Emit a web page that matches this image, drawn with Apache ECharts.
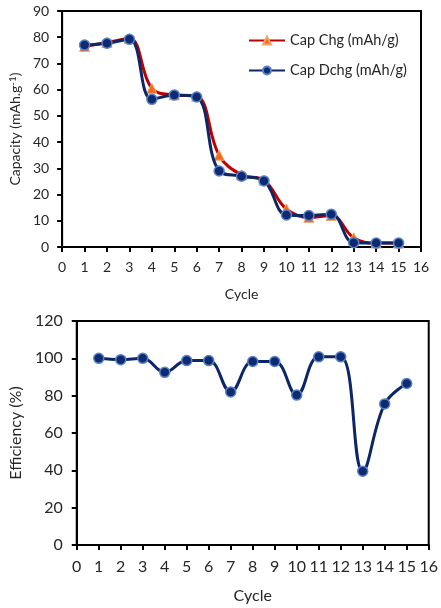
<!DOCTYPE html>
<html>
<head>
<meta charset="utf-8">
<script src="https://cdn.jsdelivr.net/npm/echarts@6/dist/echarts.min.js"></script>
<style>
  html, body { margin: 0; padding: 0; background: #fff; }
  #chart { width: 441px; height: 608px; }
</style>
</head>
<body>
<div id="chart"></div>
<script>
// Cycle numbers shared by both panels
const cycles = [1, 2, 3, 4, 5, 6, 7, 8, 9, 10, 11, 12, 13, 14, 15];
// Charge / discharge capacity per cycle (mAh/g)
const capChg  = [76.5, 78, 79.5, 60.5, 58, 57.5, 35, 27.5, 25.5, 14.5, 11.3, 12, 3.5, 1.5, 1.5];
const capDchg = [77, 77.7, 79.2, 56.3, 58, 57.2, 29, 27, 25.2, 12.2, 12, 12.5, 1.6, 1.5, 1.5];
// Coulombic efficiency per cycle (%)
const efficiency = [100, 99.3, 100, 92.5, 98.8, 98.8, 82, 98.3, 98.3, 80.3, 100.8, 100.8, 39.5, 75.6, 86.5];

const pairs = (ys) => cycles.map((c, i) => [c, ys[i]]);

const FONT = 'Lato, "Open Sans", sans-serif';
const TXT = '#262626';
const RED = '#c00000';
const NAVY = '#0b2766';

function xAxisCfg(gridIndex, fontSize, labelMargin, nameGap, nameSize) {
  return {
    type: 'value', gridIndex, min: 0, max: 16, interval: 1,
    name: 'Cycle', nameLocation: 'middle', nameGap,
    nameTextStyle: { color: TXT, fontSize: nameSize, fontFamily: FONT },
    axisLine: { onZero: false, lineStyle: { color: '#000', width: 2 } },
    axisTick: { show: true, inside: false, length: 5, lineStyle: { color: '#000', width: 2 } },
    axisLabel: { color: TXT, fontSize, fontFamily: FONT, margin: labelMargin },
    splitLine: { show: false }
  };
}

function yAxisCfg(gridIndex, max, interval, name, fontSize, labelMargin, nameGap, nameSize) {
  return {
    type: 'value', gridIndex, min: 0, max, interval,
    name, nameLocation: 'middle', nameGap, nameRotate: 90,
    nameTextStyle: {
      color: TXT, fontSize: nameSize, fontFamily: FONT,
      rich: { sup: { fontSize: nameSize - 4, color: TXT, fontFamily: FONT, verticalAlign: 'top', lineHeight: 10 } }
    },
    axisLine: { lineStyle: { color: '#000', width: 2 } },
    axisTick: { show: true, inside: false, length: 5, lineStyle: { color: '#000', width: 2 } },
    axisLabel: { color: TXT, fontSize, fontFamily: FONT, margin: labelMargin },
    splitLine: { show: false }
  };
}

const chart = echarts.init(document.getElementById('chart'), null, { renderer: 'canvas' });

chart.setOption({
  animation: false,
  backgroundColor: '#fff',
  grid: [
    { left: 57, right: 20, top: 11, bottom: 361, show: true, borderColor: '#000', borderWidth: 2, containLabel: false },
    { left: 73, right: 9, top: 321, bottom: 63, show: true, borderColor: '#000', borderWidth: 2, containLabel: false }
  ],
  legend: {
    orient: 'vertical',
    left: 243, top: 28,
    itemGap: 15, itemWidth: 36, itemHeight: 10,
    textStyle: { color: TXT, fontSize: 14.5, fontFamily: FONT },
    data: ['Cap Chg (mAh/g)', 'Cap Dchg (mAh/g)']
  },
  xAxis: [
    xAxisCfg(0, 14, 13, 40, 14),
    xAxisCfg(1, 16, 14, 43, 16)
  ],
  yAxis: [
    yAxisCfg(0, 90, 10, 'Capacity (mAh.g{sup|-1})', 14, 13, 34, 14),
    yAxisCfg(1, 120, 20, 'Efficiency (%)', 16, 14, 47, 16)
  ],
  series: [
    {
      name: 'Cap Chg (mAh/g)', type: 'line', xAxisIndex: 0, yAxisIndex: 0,
      data: pairs(capChg), smooth: 0.4,
      symbol: 'triangle', symbolSize: 10,
      lineStyle: { color: RED, width: 3 },
      itemStyle: { color: '#ee6a1c', borderColor: '#f4a36a', borderWidth: 1 },
      z: 2
    },
    {
      name: 'Cap Dchg (mAh/g)', type: 'line', xAxisIndex: 0, yAxisIndex: 0,
      data: pairs(capDchg), smooth: 0.4,
      symbol: 'circle', symbolSize: 10,
      lineStyle: { color: NAVY, width: 3 },
      itemStyle: { color: '#0e2b70', borderColor: '#5a82c8', borderWidth: 1.5 },
      z: 3
    },
    {
      name: 'Efficiency', type: 'line', xAxisIndex: 1, yAxisIndex: 1,
      data: pairs(efficiency), smooth: 0.4,
      symbol: 'circle', symbolSize: 10,
      lineStyle: { color: NAVY, width: 3 },
      itemStyle: { color: '#0e2b70', borderColor: '#5a82c8', borderWidth: 1.5 },
      z: 3
    }
  ]
});
</script>
</body>
</html>
